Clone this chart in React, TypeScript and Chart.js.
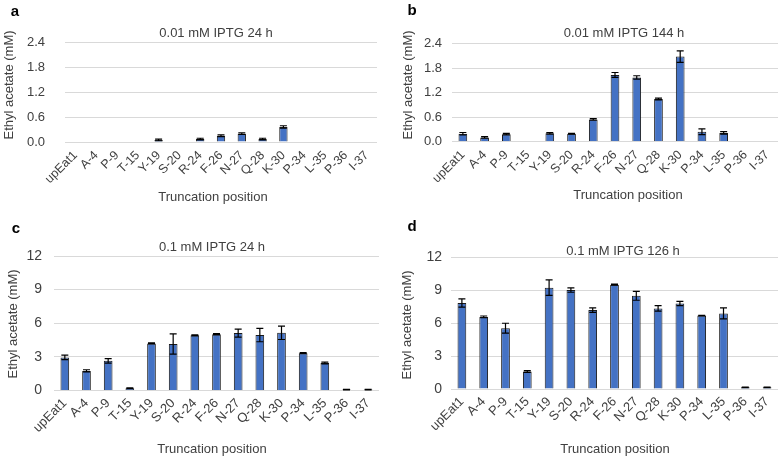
import React, { useEffect, useRef } from 'react';
import { Chart, registerables } from 'chart.js';

Chart.register(...registerables);

const categories = ['upEat1', 'A-4', 'P-9', 'T-15', 'Y-19', 'S-20', 'R-24', 'F-26', 'N-27', 'Q-28', 'K-30', 'P-34', 'L-35', 'P-36', 'I-37'];

const valuesA = [0, 0, 0, 0, 0.05, 0, 0.07, 0.15, 0.2, 0.07, 0.36, 0, 0, 0, 0];
const errorsA = [0, 0, 0, 0, 0.02, 0, 0.02, 0.02, 0.02, 0.02, 0.03, 0, 0, 0, 0];

const valuesB = [0.19, 0.1, 0.18, 0, 0.2, 0.19, 0.54, 1.63, 1.57, 1.04, 2.08, 0.24, 0.21, 0, 0];
const errorsB = [0.03, 0.02, 0.02, 0, 0.02, 0.01, 0.02, 0.06, 0.04, 0.02, 0.14, 0.07, 0.03, 0, 0];

const valuesC = [2.95, 1.75, 2.65, 0.2, 4.2, 4.15, 4.92, 5.02, 5.12, 4.95, 5.15, 3.33, 2.45, 0.08, 0.08];
const errorsC = [0.2, 0.1, 0.2, 0.04, 0.05, 0.9, 0.05, 0.05, 0.35, 0.6, 0.6, 0.05, 0.08, 0.02, 0.02];

const valuesD = [7.85, 6.58, 5.55, 1.6, 9.25, 9.03, 7.2, 9.52, 8.5, 7.35, 7.8, 6.7, 6.9, 0.15, 0.15];
const errorsD = [0.38, 0.08, 0.45, 0.08, 0.7, 0.2, 0.2, 0.05, 0.4, 0.25, 0.2, 0.03, 0.5, 0.03, 0.03];

const yTicksTop = [0, 0.6, 1.2, 1.8, 2.4];
const yTicksBottom = [0, 3, 6, 9, 12];

const panelTitles = ['0.01 mM IPTG 24 h', '0.01 mM IPTG 144 h', '0.1 mM IPTG 24 h', '0.1 mM IPTG 126 h'];
const panelLetters = ['a', 'b', 'c', 'd'];
const yAxisTitle = 'Ethyl acetate (mM)';
const xAxisTitle = 'Truncation position';

const FONT = '"Liberation Sans", Arial, "DejaVu Sans", sans-serif';
const BAR_COLOR = '#4472C4';
const TEXT_COLOR = '#404040';

type Layout = {
  left: number; top: number; w: number; h: number;
  area: { l: number; r: number; t: number; b: number };
  yPad: number;
  xPad: number;
  xFont: number;
  yFont: number;
  title: [number, number];
  yTitle: [number, number];
  xTitle: [number, number];
  letter: [number, number];
};

const layouts: Layout[] = [
  { left: 0, top: 0, w: 392, h: 215, area: { l: 65, r: 377, t: 42, b: 142 }, yPad: 20, xPad: 6, xFont: 12.5, yFont: 13, title: [216, 33], yTitle: [9, 85], xTitle: [213, 197], letter: [15, 12] },
  { left: 392, top: 0, w: 392, h: 215, area: { l: 60, r: 386, t: 43.5, b: 141.5 }, yPad: 10, xPad: 6, xFont: 12.5, yFont: 13, title: [232, 33], yTitle: [16, 85], xTitle: [236, 195], letter: [20, 11] },
  { left: 0, top: 215, w: 392, h: 243, area: { l: 54, r: 379, t: 41, b: 175.5 }, yPad: 12, xPad: 5, xFont: 13, yFont: 14, title: [212, 32], yTitle: [13, 109], xTitle: [212, 234], letter: [16, 14] },
  { left: 392, top: 215, w: 392, h: 243, area: { l: 59, r: 386, t: 42.5, b: 174 }, yPad: 9, xPad: 5, xFont: 13, yFont: 14, title: [231, 36], yTitle: [15, 110], xTitle: [223, 234], letter: [20, 12] },
];

type PanelProps = {
  idx: number;
  values: number[];
  errors: number[];
  yTicks: number[];
  decimals: number;
};

function Panel({ idx, values, errors, yTicks, decimals }: PanelProps) {
  const ref = useRef<HTMLCanvasElement | null>(null);
  const L = layouts[idx];

  useEffect(() => {
    if (!ref.current) return;
    const decor = {
      id: 'decor' + idx,
      afterDatasetsDraw(chart: any) {
        const ctx = chart.ctx;
        const ys = chart.scales.y;
        const meta = chart.getDatasetMeta(0);
        ctx.save();
        ctx.strokeStyle = '#000000';
        ctx.lineWidth = 1.2;
        meta.data.forEach((bar: any, i: number) => {
          const e = errors[i];
          if (!e) return;
          const v = values[i];
          const x = bar.x;
          const yTop = ys.getPixelForValue(v + e);
          const yBot = ys.getPixelForValue(Math.max(v - e, 0));
          const cap = 3.5;
          ctx.beginPath();
          ctx.moveTo(x, yTop);
          ctx.lineTo(x, yBot);
          ctx.moveTo(x - cap, yTop);
          ctx.lineTo(x + cap, yTop);
          ctx.moveTo(x - cap, yBot);
          ctx.lineTo(x + cap, yBot);
          ctx.stroke();
        });
        ctx.restore();
      },
      afterDraw(chart: any) {
        const ctx = chart.ctx;
        ctx.save();
        ctx.textAlign = 'center';
        ctx.textBaseline = 'middle';
        ctx.fillStyle = TEXT_COLOR;
        ctx.font = '13px ' + FONT;
        ctx.fillText(panelTitles[idx], L.title[0], L.title[1]);
        ctx.fillText(xAxisTitle, L.xTitle[0], L.xTitle[1]);
        ctx.save();
        ctx.translate(L.yTitle[0], L.yTitle[1]);
        ctx.rotate(-Math.PI / 2);
        ctx.fillText(yAxisTitle, 0, 0);
        ctx.restore();
        ctx.fillStyle = '#000000';
        ctx.font = 'bold 15px ' + FONT;
        ctx.fillText(panelLetters[idx], L.letter[0], L.letter[1]);
        ctx.restore();
      },
    };

    const chart = new Chart(ref.current, {
      type: 'bar',
      data: {
        labels: categories,
        datasets: [
          {
            data: values,
            backgroundColor: BAR_COLOR,
            borderColor: '#1a1a1a',
            borderWidth: 1,
            borderSkipped: 'start',
            categoryPercentage: 1,
            barPercentage: 0.4,
          },
        ],
      },
      options: {
        responsive: false,
        animation: false,
        devicePixelRatio: 1,
        layout: { padding: { left: 0, right: L.w - L.area.r, top: L.area.t, bottom: 0 } },
        plugins: {
          legend: { display: false },
          tooltip: { enabled: false },
          title: { display: false },
        },
        scales: {
          x: {
            grid: { display: false, drawTicks: false },
            border: { display: false },
            ticks: {
              autoSkip: false,
              minRotation: 45,
              maxRotation: 45,
              padding: L.xPad,
              color: TEXT_COLOR,
              font: { family: FONT, size: L.xFont },
            },
            afterFit: (s: any) => {
              s.height = L.h - L.area.b;
            },
          },
          y: {
            min: yTicks[0],
            max: yTicks[yTicks.length - 1],
            grid: { color: '#d9d9d9', lineWidth: 1, drawTicks: false },
            border: { display: false },
            ticks: {
              padding: L.yPad,
              color: TEXT_COLOR,
              font: { family: FONT, size: L.yFont },
              callback: (v: any) => Number(v).toFixed(decimals),
            },
            afterBuildTicks: (s: any) => {
              s.ticks = yTicks.map((v) => ({ value: v }));
            },
            afterFit: (s: any) => {
              s.width = L.area.l;
            },
          },
        },
      },
      plugins: [decor],
    } as any);
    return () => chart.destroy();
  }, []);

  return (
    <canvas
      ref={ref}
      width={L.w}
      height={L.h}
      style={{ position: 'absolute', left: L.left, top: L.top, width: L.w, height: L.h }}
    />
  );
}

export default function App() {
  return (
    <div style={{ position: 'absolute', left: 0, top: 0, width: 784, height: 458, background: '#ffffff', overflow: 'hidden' }}>
      <Panel idx={0} values={valuesA} errors={errorsA} yTicks={yTicksTop} decimals={1} />
      <Panel idx={1} values={valuesB} errors={errorsB} yTicks={yTicksTop} decimals={1} />
      <Panel idx={2} values={valuesC} errors={errorsC} yTicks={yTicksBottom} decimals={0} />
      <Panel idx={3} values={valuesD} errors={errorsD} yTicks={yTicksBottom} decimals={0} />
    </div>
  );
}
